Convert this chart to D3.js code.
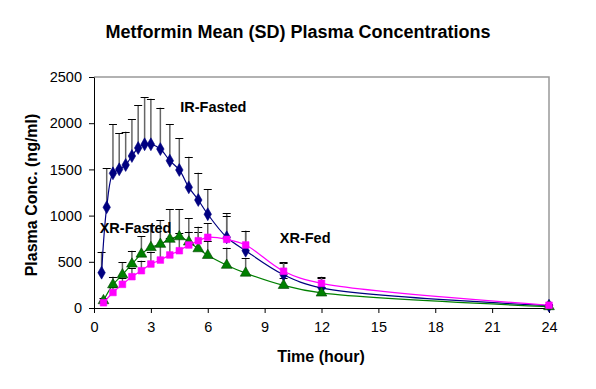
<!DOCTYPE html>
<html lang="en">
<head>
    <meta charset="UTF-8">
    <title>Metformin Mean (SD) Plasma Concentrations</title>
    <script src="https://d3js.org/d3.v7.min.js"></script>
    <style>
        body { margin: 0; background: #fff; }
        text { font-family: "Liberation Sans", Arial, sans-serif; }
        .title { font-size: 18px; font-weight: bold; }
        .axis-label { font-size: 16px; font-weight: bold; }
        .series-label { font-size: 14.5px; font-weight: bold; }
    </style>
</head>
<body>
    <svg width="596" height="389"></svg>
    <script>
        // values (ng/ml), upper bar = mean + SD
        const irTime = [0.4, 0.67, 1, 1.33, 1.67, 2, 2.33, 2.67, 3, 3.5, 4, 4.5, 5, 5.5, 6, 7, 8, 10, 12, 24];
        const irMean = [382, 1090, 1458, 1501, 1548, 1645, 1732, 1772, 1772, 1720, 1594, 1494, 1306, 1169, 1015, 765, 620, 360, 218, 25];
        const irUpper = [609, 1512, 1988, 1890, 1908, 2045, 2193, 2280, 2265, 2168, 1991, 1836, 1638, 1464, 1288, 1025, 837, 490, 330, 35];

        const xrTime = [0.5, 1, 1.5, 2, 2.5, 3, 3.5, 4, 4.5, 5, 5.5, 6, 7, 8, 10, 12, 24];
        const fastedMean = [80, 252, 360, 476, 584, 655, 690, 745, 772, 715, 642, 570, 463, 378, 245, 163, 15];
        const fastedUpper = [112, 339, 495, 620, 779, 900, 952, 1071, 1071, 971, 820, 720, 653, 538, 330, 230, 20];
        const fedMean = [57, 168, 256, 339, 404, 476, 519, 574, 620, 682, 728, 765, 743, 682, 398, 267, 30];
        const fedUpper = [75, 225, 330, 430, 512, 609, 680, 760, 810, 826, 880, 916, 1000, 830, 494, 339, 40];

        const xTicks = [0, 3, 6, 9, 12, 15, 18, 21, 24];
        const yTicks = [0, 500, 1000, 1500, 2000, 2500];

        const svg = d3.select("svg");
        const x = d3.scaleLinear().domain([0, 24]).range([94, 549]);
        const y = d3.scaleLinear().domain([0, 2500]).range([308, 77]);

        svg.append("text")
            .attr("class", "title")
            .attr("x", 298).attr("y", 38)
            .attr("text-anchor", "middle")
            .text("Metformin Mean (SD) Plasma Concentrations");

        // plot frame (grey top / right)
        svg.append("path")
            .attr("d", `M${x(0)},${y(2500)}H${x(24)}V${y(0)}`)
            .attr("fill", "none")
            .attr("stroke", "#999")
            .attr("stroke-width", 1.5);

        const xAxis = svg.append("g")
            .attr("transform", `translate(0,${y(0)})`)
            .call(d3.axisBottom(x).tickValues(xTicks).tickFormat(d3.format("d"))
                .tickSize(5).tickPadding(9).tickSizeOuter(0));
        const yAxis = svg.append("g")
            .attr("transform", `translate(${x(0)},0)`)
            .call(d3.axisLeft(y).tickValues(yTicks).tickFormat(d3.format("d"))
                .tickSize(5).tickPadding(7).tickSizeOuter(0));
        [xAxis, yAxis].forEach(g => {
            g.attr("font-size", null).attr("font-family", null);
            g.selectAll("path, line").attr("stroke", "#000");
            g.selectAll("text").attr("fill", "#000").style("font-size", "14.5px");
        });

        svg.append("text")
            .attr("class", "axis-label")
            .attr("x", 321).attr("y", 362)
            .attr("text-anchor", "middle")
            .text("Time (hour)");
        svg.append("text")
            .attr("class", "axis-label")
            .attr("transform", "translate(37,195) rotate(-90)")
            .attr("text-anchor", "middle")
            .text("Plasma Conc. (ng/ml)");

        const series = [
            { name: "IR-Fasted", time: irTime, mean: irMean, upper: irUpper, color: "#000080", stroke: "#000080", shape: d3.symbolDiamond, size: 48 },
            { name: "XR-Fasted", time: xrTime, mean: fastedMean, upper: fastedUpper, color: "#008000", stroke: "#004000", shape: d3.symbolTriangle, size: 50 },
            { name: "XR-Fed", time: xrTime, mean: fedMean, upper: fedUpper, color: "#ff00ff", stroke: "#ff00ff", shape: d3.symbolSquare, size: 44 }
        ];

        const line = d3.line()
            .x(d => x(d.t))
            .y(d => y(d.v))
            .curve(d3.curveCatmullRom.alpha(0.5));

        // error bars
        series.forEach(s => {
            const rows = s.time.map((t, i) => ({ t, v: s.mean[i], up: s.upper[i] }));
            const g = svg.append("g");
            g.selectAll("line.bar").data(rows).enter().append("line")
                .attr("x1", d => x(d.t)).attr("x2", d => x(d.t))
                .attr("y1", d => y(d.v)).attr("y2", d => y(d.up))
                .attr("stroke", "#666").attr("stroke-width", 1.5);
            g.selectAll("line.cap").data(rows).enter().append("line")
                .attr("x1", d => x(d.t) - 4).attr("x2", d => x(d.t) + 4)
                .attr("y1", d => Math.round(y(d.up)) + 0.5).attr("y2", d => Math.round(y(d.up)) + 0.5)
                .attr("stroke", "#000").attr("stroke-width", 1);
        });

        // lines and markers
        series.forEach(s => {
            const rows = s.time.map((t, i) => ({ t, v: s.mean[i] }));
            svg.append("path")
                .datum(rows)
                .attr("d", line)
                .attr("fill", "none")
                .attr("stroke", s.color)
                .attr("stroke-width", 1.2);
            svg.append("g").selectAll("path").data(rows).enter().append("path")
                .attr("d", d3.symbol().type(s.shape).size(s.size))
                .attr("transform", d => `translate(${x(d.t)},${y(d.v)})`)
                .attr("fill", s.color)
                .attr("stroke", s.stroke)
                .attr("stroke-width", 0.6);
        });

        const labels = [
            { text: "IR-Fasted", t: 4.55, v: 2120 },
            { text: "XR-Fasted", t: 0.3, v: 810 },
            { text: "XR-Fed", t: 9.8, v: 700 }
        ];
        svg.selectAll("text.series-label").data(labels).enter().append("text")
            .attr("class", "series-label")
            .attr("x", d => x(d.t))
            .attr("y", d => y(d.v))
            .text(d => d.text);
    </script>
</body>
</html>
